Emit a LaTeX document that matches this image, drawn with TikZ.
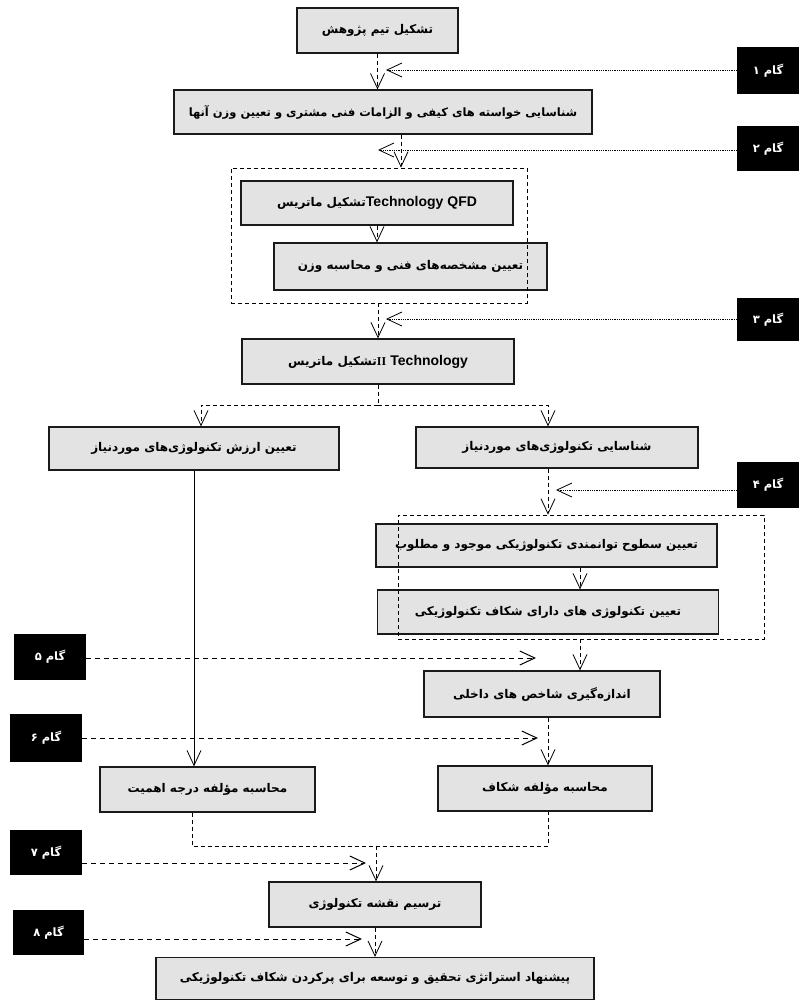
\documentclass[tikz,border=0pt]{standalone}
\usepackage{fontspec}
\usepackage{tikz}
\usetikzlibrary{arrows.meta}
\TeXXeTstate=1
\newfontfamily\fafont[Script=Arabic]{DejaVu Sans}
\newfontfamily\latfont{Liberation Sans}
\newfontfamily\romfont{Liberation Serif}
\newcommand{\fatext}[1]{\beginR #1\endR}
\definecolor{boxfill}{HTML}{E3E3E3}
\definecolor{edge}{HTML}{1A1A1A}
\tikzset{%
    >={Straight Barb[length=15pt,width=14pt]},
    stage/.style={draw=edge, line width=1.3pt, fill=boxfill, inner sep=0pt,
        font=\fafont\bfseries\fontsize{12}{14}\selectfont},
    gam/.style={fill=black, text=white, inner sep=0pt,
        font=\fafont\bfseries\fontsize{11.5}{13}\selectfont},
    frame/.style={draw, line width=0.7pt, dash pattern=on 4pt off 3pt, inner sep=0pt},
    flow/.style={line width=0.8pt, dash pattern=on 4pt off 3pt},
    dotlink/.style={line width=0.8pt, densely dotted},
    dashlink/.style={line width=1pt, dash pattern=on 5pt off 4pt}
}

\begin{document}
\begin{tikzpicture}[x=1pt,y=-1pt]
        \useasboundingbox (0,0) rectangle (798,1001);

        \node[stage, minimum width=161pt, minimum height=45pt] (team) at (377.5,30.5) {\fatext{تشکیل تیم پژوهش}};
        \node[stage, minimum width=418pt, minimum height=44pt, font=\fafont\bfseries\fontsize{11.5}{14}\selectfont] (req) at (383,112) {\fatext{شناسایی خواسته های کیفی و الزامات فنی مشتری و تعیین وزن آنها}};
        \node[stage, minimum width=272pt, minimum height=44pt] (qfd) at (377,203) {\fatext{\beginL{\latfont\bfseries\fontsize{14}{16}\selectfont Technology QFD}\endL{}تشکیل ماتریس}};
        \node[stage, minimum width=273pt, minimum height=47pt] (spec) at (410.5,266.5) {\fatext{تعیین مشخصه‌های فنی و محاسبه وزن}};
        \node[stage, minimum width=272pt, minimum height=45pt] (matrix) at (378,361.5) {\fatext{\beginL{\latfont\bfseries\fontsize{14}{16}\selectfont Technology}\endL\ \beginL{\romfont\bfseries II}\endL{}تشکیل ماتریس}};
        \node[stage, minimum width=290pt, minimum height=43pt] (worth) at (194,448.5) {\fatext{تعیین ارزش تکنولوژی‌های موردنیاز}};
        \node[stage, minimum width=282pt, minimum height=41pt] (ident) at (557,447.5) {\fatext{شناسایی تکنولوژی‌های موردنیاز}};
        \node[stage, minimum width=341pt, minimum height=43pt] (level) at (546.5,545.5) {\fatext{تعیین سطوح توانمندی تکنولوژیکی موجود و مطلوب}};
        \node[stage, minimum width=341pt, minimum height=44pt] (gaptech) at (548,612) {\fatext{تعیین تکنولوژی های دارای شکاف تکنولوژیکی}};
        \node[stage, minimum width=236pt, minimum height=46pt] (measure) at (542,694) {\fatext{اندازه‌گیری شاخص های داخلی}};
        \node[stage, minimum width=215pt, minimum height=45pt] (weight) at (207.5,789.5) {\fatext{محاسبه مؤلفه درجه اهمیت}};
        \node[stage, minimum width=214pt, minimum height=45pt] (gapcalc) at (545,788.5) {\fatext{محاسبه مؤلفه شکاف}};
        \node[stage, minimum width=212pt, minimum height=45pt] (roadmap) at (375,904.5) {\fatext{ترسیم نقشه تکنولوژی}};
        \node[stage, minimum width=438pt, minimum height=42pt] (strategy) at (375,978.5) {\fatext{پیشنهاد استراتژی تحقیق و توسعه برای پرکردن شکاف تکنولوژیکی}};

        \node[frame, minimum width=296pt, minimum height=135pt] (grp1) at (379,235.5) {};
        \node[frame, minimum width=366pt, minimum height=124pt] (grp2) at (581,577) {};

        \node[gam, minimum width=62pt, minimum height=47pt] (g1) at (768,70.5) {\fatext{گام ۱}};
        \node[gam, minimum width=62pt, minimum height=45pt] (g2) at (768,148.5) {\fatext{گام ۲}};
        \node[gam, minimum width=62pt, minimum height=43pt] (g3) at (768,319.5) {\fatext{گام ۳}};
        \node[gam, minimum width=62pt, minimum height=46pt] (g4) at (768,485) {\fatext{گام ۴}};
        \node[gam, minimum width=72pt, minimum height=46pt] (g5) at (50,657) {\fatext{گام ۵}};
        \node[gam, minimum width=72pt, minimum height=48pt] (g6) at (46,737.5) {\fatext{گام ۶}};
        \node[gam, minimum width=72pt, minimum height=45pt] (g7) at (46,852.5) {\fatext{گام ۷}};
        \node[gam, minimum width=71pt, minimum height=45pt] (g8) at (48.5,932.5) {\fatext{گام ۸}};

        \coordinate (tip1) at (386,70);
        \coordinate (tip2) at (378,150);
        \coordinate (tip3) at (386,319);
        \coordinate (tip4) at (556,490);
        \coordinate (tip5) at (536,658);
        \coordinate (tip6) at (538,738);
        \coordinate (tip7) at (366,863);
        \coordinate (tip8) at (362,939);
        \coordinate (col2) at (401,0);
        \coordinate (fork) at (378,405);
        \coordinate (forkL) at (201,405);
        \coordinate (forkR) at (548,405);
        \coordinate (inner) at (580,0);
        \coordinate (lcol) at (192,0);
        \coordinate (join) at (376,846);

        \draw[flow,->] (team.south) -- (team.south |- req.north);
        \draw[dotlink,->] (g1.west |- tip1) -- (tip1);
        \draw[flow,->] (col2 |- req.south) -- (col2 |- grp1.north);
        \draw[dotlink,->] (g2.west |- tip2) -- (tip2);
        \draw[flow,->] (qfd.south) -- (qfd.south |- spec.north);
        \draw[flow,->] (matrix.north |- grp1.south) -- (matrix.north);
        \draw[dotlink,->] (g3.west |- tip3) -- (tip3);

        \draw[flow] (matrix.south) -- (fork);
        \draw[flow,->] (fork) -- (forkL) -- (forkL |- worth.north);
        \draw[flow,->] (fork) -- (forkR) -- (forkR |- ident.north);

        \draw[flow,->] (forkR |- ident.south) -- (forkR |- grp2.north);
        \draw[dotlink,->] (g4.west |- tip4) -- (tip4);
        \draw[flow,->] (inner |- level.south) -- (inner |- gaptech.north);
        \draw[flow,->] (inner |- grp2.south) -- (inner |- measure.north);
        \draw[dashlink,->] (g5.east |- tip5) -- (tip5);
        \draw[flow,->] (forkR |- measure.south) -- (forkR |- gapcalc.north);
        \draw[dashlink,->] (g6.east |- tip6) -- (tip6);

        \draw[line width=0.8pt,->] (worth.south) -- (worth.south |- weight.north);

        \draw[flow] (lcol |- weight.south) -- (lcol |- join) -- (forkR |- join) -- (forkR |- gapcalc.south);
        \draw[flow,->] (join) -- (join |- roadmap.north);
        \draw[dashlink,->] (g7.east |- tip7) -- (tip7);
        \draw[flow,->] (roadmap.south) -- (roadmap.south |- strategy.north);
        \draw[dashlink,->] (g8.east |- tip8) -- (tip8);
    \end{tikzpicture}
\end{document}
